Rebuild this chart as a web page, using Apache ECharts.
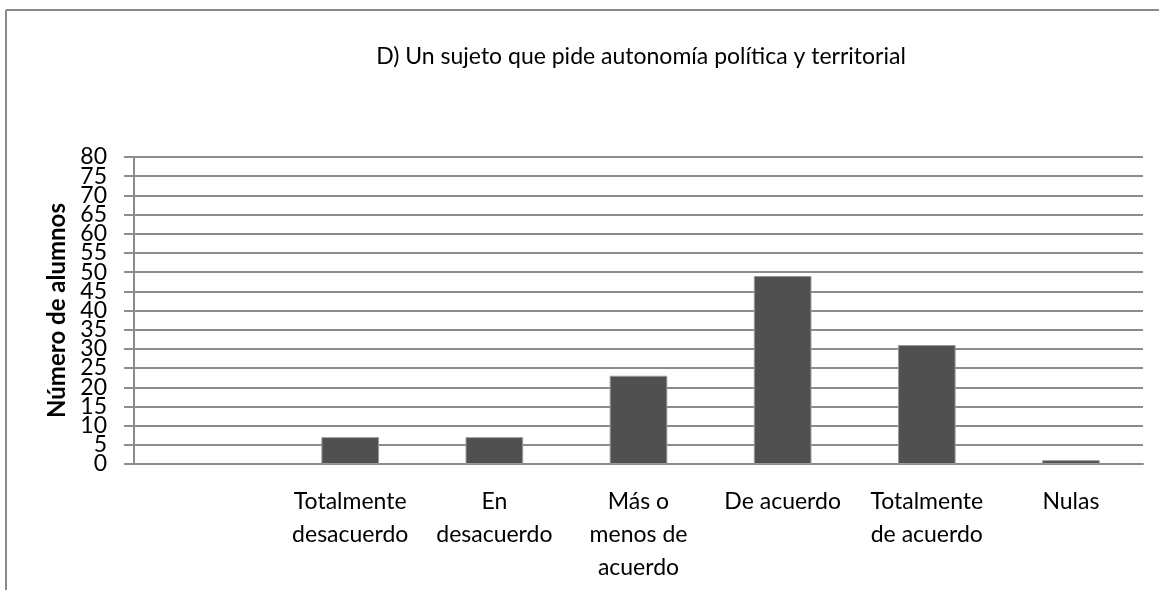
<!DOCTYPE html>
<html>
<head>
<meta charset="utf-8">
<script src="https://cdn.jsdelivr.net/npm/echarts@6/dist/echarts.min.js"></script>
<style>
  html, body { margin: 0; padding: 0; background: #fff; }
  #chart { width: 1159px; height: 590px; }
</style>
</head>
<body>
<div id="chart"></div>
<script>
// categories (first slot is empty in the original chart)
const categories = ['', 'Totalmente\ndesacuerdo', 'En\ndesacuerdo', 'Más o\nmenos de\nacuerdo', 'De acuerdo', 'Totalmente\nde acuerdo', 'Nulas']
const alumnos = [null, 7, 7, 23, 49, 31, 1]
const chartTitle = 'D) Un sujeto que pide autonomía política y territorial'
const yName = 'Número de alumnos'

const font = 'Lato, "Open Sans", sans-serif'
const chart = echarts.init(document.getElementById('chart'))

// labels are packed tightly, so they are split over two overlaid axes
// (multiples of 10 on one, the rest on the other) to stop ECharts hiding any
const labelStyle = {
  margin: 27,
  fontFamily: font,
  fontSize: 23,
  color: '#000',
  showMinLabel: true,
  showMaxLabel: true
}

const option = {
  animation: false,
  title: {
    text: chartTitle,
    left: 636,
    top: 40,
    textAlign: 'center',
    textStyle: { fontFamily: font, fontSize: 23, fontWeight: 'normal', color: '#000' }
  },
  graphic: [
    { type: 'line', shape: { x1: 6, y1: 10, x2: 1159, y2: 10 }, style: { stroke: '#8c8c8c', lineWidth: 2 } },
    { type: 'line', shape: { x1: 6, y1: 10, x2: 6, y2: 590 }, style: { stroke: '#8c8c8c', lineWidth: 2 } }
  ],
  grid: { left: 134, right: 16, top: 157, bottom: 126 },
  xAxis: {
    type: 'category',
    data: categories,
    axisLine: { lineStyle: { color: '#8c8c8c', width: 2 } },
    axisTick: { show: false },
    axisLabel: {
      interval: 0,
      margin: 21,
      fontFamily: font,
      fontSize: 23,
      lineHeight: 33,
      color: '#000'
    }
  },
  yAxis: [
    {
      type: 'value',
      min: 0,
      max: 80,
      interval: 5,
      name: yName,
      nameLocation: 'middle',
      nameGap: 62,
      nameTextStyle: { fontFamily: font, fontSize: 24, fontWeight: 'bold', color: '#000' },
      axisLine: { show: true, lineStyle: { color: '#8c8c8c', width: 2 } },
      axisTick: { show: true, length: 10, lineStyle: { color: '#8c8c8c', width: 2 } },
      splitLine: { lineStyle: { color: '#8c8c8c', width: 2 } },
      axisLabel: Object.assign({}, labelStyle, {
        formatter: v => (v % 10 === 0 ? String(v) : '')
      })
    },
    {
      type: 'value',
      position: 'left',
      min: 0,
      max: 80,
      interval: 5,
      axisLine: { show: false },
      axisTick: { show: false },
      splitLine: { show: false },
      axisLabel: Object.assign({}, labelStyle, {
        formatter: v => (v % 10 !== 0 ? String(v) : '')
      })
    }
  ],
  series: [
    {
      type: 'bar',
      data: alumnos,
      barWidth: '40%',
      itemStyle: { color: '#505050', borderColor: '#9a9a9a', borderWidth: 1 }
    }
  ]
}
chart.setOption(option)
window.addEventListener('resize', () => chart.resize())
</script>
</body>
</html>
